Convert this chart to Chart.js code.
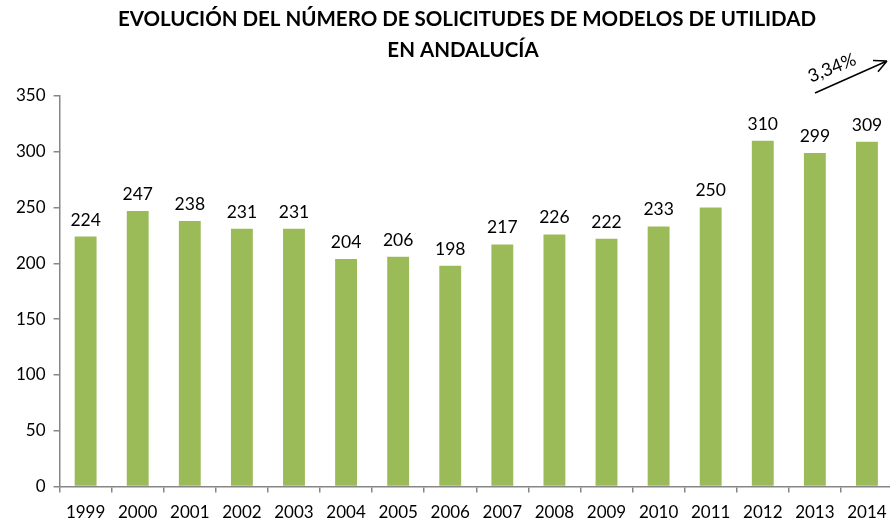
<!DOCTYPE html>
<html>
<head>
<meta charset="utf-8">
<script src="https://cdn.jsdelivr.net/npm/chart.js@4.4.0/dist/chart.umd.min.js"></script>
<style>
  html, body { margin: 0; padding: 0; background: #fff; overflow: hidden; }
  #wrap { width: 930px; height: 533px; }
</style>
</head>
<body>
<div id="wrap"><canvas id="chart"></canvas></div>
<script>
// Chart data
const years = ['1999', '2000', '2001', '2002', '2003', '2004', '2005', '2006',
               '2007', '2008', '2009', '2010', '2011', '2012', '2013', '2014'];
const solicitudes = [224, 247, 238, 231, 231, 204, 206, 198, 217, 226, 222, 233, 250, 310, 299, 309];
const yTicks = [0, 50, 100, 150, 200, 250, 300, 350];
const titleLines = ['EVOLUCIÓN DEL NÚMERO DE SOLICITUDES DE MODELOS DE UTILIDAD', 'EN ANDALUCÍA'];
const growthLabel = '3,34%';

const FONT = 'Lato, "Open Sans", "Noto Sans", sans-serif';

/**
 * Title, centred on the original slide rather than on the plot area
 */
const slideTitle = {
    id: 'slideTitle',
    afterDraw(chart) {
        const ctx = chart.ctx;
        ctx.save();
        ctx.font = 'bold 20.5px ' + FONT;
        ctx.fillStyle = '#000';
        ctx.textAlign = 'center';
        ctx.textBaseline = 'middle';
        ctx.fillText(titleLines[0], 467, 19);
        ctx.fillText(titleLines[1], 463, 50);
        ctx.restore();
    }
};

/**
 * Draws the value above each bar
 */
const valueLabels = {
    id: 'valueLabels',
    afterDatasetsDraw(chart) {
        const ctx = chart.ctx;
        const meta = chart.getDatasetMeta(0);
        ctx.save();
        ctx.font = '17.5px ' + FONT;
        ctx.fillStyle = '#000';
        ctx.textAlign = 'center';
        ctx.textBaseline = 'bottom';
        meta.data.forEach((bar, i) => {
            ctx.fillText(String(solicitudes[i]), bar.x, bar.y - 8);
        });
        ctx.restore();
    }
};

/**
 * Growth arrow in the top-right corner
 */
const growthArrow = {
    id: 'growthArrow',
    afterDraw(chart) {
        const ctx = chart.ctx;
        const x0 = 815, y0 = 93, x1 = 887, y1 = 61;
        const ang = Math.atan2(y1 - y0, x1 - x0);
        ctx.save();
        ctx.strokeStyle = '#000';
        ctx.lineWidth = 1.5;
        ctx.beginPath();
        ctx.moveTo(x0, y0);
        ctx.lineTo(x1, y1);
        ctx.moveTo(x1, y1);
        ctx.lineTo(x1 - 14 * Math.cos(ang - 0.45), y1 - 14 * Math.sin(ang - 0.45));
        ctx.moveTo(x1, y1);
        ctx.lineTo(x1 - 14 * Math.cos(ang + 0.45), y1 - 14 * Math.sin(ang + 0.45));
        ctx.stroke();

        ctx.translate(832, 68);
        ctx.rotate(-0.38);
        ctx.font = '18px ' + FONT;
        ctx.fillStyle = '#000';
        ctx.textAlign = 'center';
        ctx.textBaseline = 'middle';
        ctx.fillText(growthLabel, 0, 0);
        ctx.restore();
    }
};

const ctx = document.getElementById('chart').getContext('2d');
new Chart(ctx, {
    type: 'bar',
    data: {
        labels: years,
        datasets: [{
            data: solicitudes,
            backgroundColor: '#9BBB59',
            borderWidth: 0,
            barPercentage: 0.42,
            categoryPercentage: 1.0,
        }]
    },
    options: {
        responsive: true,
        maintainAspectRatio: false,
        animation: false,
        layout: { padding: { top: 96, right: 37, bottom: 0, left: 8 } },
        plugins: {
            legend: { display: false },
            tooltip: { enabled: false },
            title: { display: false }
        },
        scales: {
            x: {
                offset: true,
                grid: {
                    display: true,
                    offset: true,
                    drawOnChartArea: false,
                    drawTicks: true,
                    tickLength: 6,
                    color: '#868686',
                    lineWidth: 1.5
                },
                border: { display: true, color: '#868686', width: 1.5 },
                ticks: {
                    color: '#000',
                    font: { family: FONT, size: 17 },
                    padding: 10,
                    maxRotation: 0,
                    autoSkip: false
                }
            },
            y: {
                min: 0,
                max: 350,
                afterBuildTicks(axis) {
                    axis.ticks = yTicks.map(v => ({ value: v }));
                },
                grid: {
                    display: true,
                    drawOnChartArea: false,
                    drawTicks: true,
                    tickLength: 6,
                    color: '#868686',
                    lineWidth: 1.5
                },
                border: { display: true, color: '#868686', width: 1.5 },
                ticks: {
                    color: '#000',
                    font: { family: FONT, size: 17 },
                    padding: 8
                }
            }
        }
    },
    plugins: [slideTitle, valueLabels, growthArrow]
});
</script>
</body>
</html>
